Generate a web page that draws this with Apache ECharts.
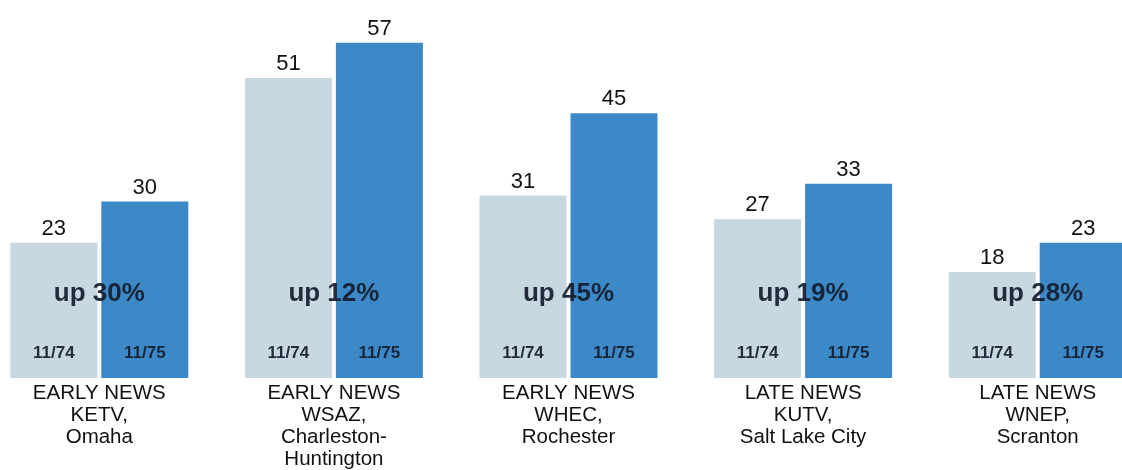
<!DOCTYPE html>
<html>
<head>
<meta charset="utf-8">
<title>Early and late news ratings, 11/74 vs 11/75</title>
<script src="https://cdn.jsdelivr.net/npm/echarts@6/dist/echarts.min.js"></script>
<style>
  html, body { margin: 0; padding: 0; background: #ffffff; overflow: hidden; width: 1122px; height: 470px; position: relative; }
  /* plot canvas runs slightly past both page edges so the last pair is cropped at the right */
  #chart { position: absolute; left: -18px; top: 0; width: 1173px; height: 470px; }
</style>
</head>
<body>
<div id="chart"></div>
<script>
// Newscasts and their markets
const categories = [
  'EARLY NEWS\nKETV,\nOmaha',
  'EARLY NEWS\nWSAZ,\nCharleston-\nHuntington',
  'EARLY NEWS\nWHEC,\nRochester',
  'LATE NEWS\nKUTV,\nSalt Lake City',
  'LATE NEWS\nWNEP,\nScranton'
];
// Rating book periods
const periodLabels = ['11/74', '11/75'];
// Ratings in each period
const ratings1974 = [23, 51, 31, 27, 18];
const ratings1975 = [30, 57, 45, 33, 23];
// Stated gain, percent
const gainPercent = [30, 12, 45, 19, 28];

const BAR_W = 87;
const BAR_GAP = 4;
const FONT = '"Liberation Sans", Arial, Helvetica, sans-serif';
const INK = 'rgba(18, 28, 44, 0.92)';

const chart = echarts.init(document.getElementById('chart'), null, { renderer: 'canvas' });

const valueLabel = {
  show: true,
  position: 'top',
  distance: 3,
  fontFamily: FONT,
  fontSize: 22,
  color: '#111111'
};

chart.setOption({
  animation: false,
  backgroundColor: '#ffffff',
  grid: { left: 0, right: 0, top: 25, bottom: 91, containLabel: false },
  xAxis: {
    type: 'category',
    data: categories,
    axisLine: { show: false },
    axisTick: { show: false },
    axisLabel: {
      margin: 4,
      fontFamily: FONT,
      fontSize: 20.5,
      lineHeight: 22,
      color: '#111111',
      interval: 0
    }
  },
  yAxis: {
    type: 'value',
    min: 0,
    max: 60,
    show: false,
    splitLine: { show: false }
  },
  series: [
    {
      name: periodLabels[0],
      type: 'bar',
      data: ratings1974,
      barWidth: BAR_W,
      barGap: (BAR_GAP / BAR_W * 100).toFixed(2) + '%',
      itemStyle: { color: '#c8d8e1' },
      label: valueLabel
    },
    {
      name: periodLabels[1],
      type: 'bar',
      data: ratings1975,
      barWidth: BAR_W,
      itemStyle: { color: '#3d89c7' },
      label: valueLabel
    },
    {
      // "up N%" across each pair, and the period tag at the foot of each bar
      type: 'custom',
      data: gainPercent.map((v, i) => [i, v]),
      encode: { x: 0, y: 1 },
      z: 10,
      silent: true,
      renderItem: function (params, api) {
        const base = api.coord([api.value(0), 0]);
        const x = base[0];
        const y0 = base[1];
        const off = (BAR_W + BAR_GAP) / 2;
        const tag = (text, dx) => ({
          type: 'text',
          style: {
            text: text,
            x: x + dx,
            y: y0 - 25,
            align: 'center',
            verticalAlign: 'middle',
            font: 'bold 17px ' + FONT,
            fill: INK
          }
        });
        return {
          type: 'group',
          children: [
            {
              type: 'text',
              style: {
                text: 'up ' + api.value(1) + '%',
                x: x,
                y: y0 - 84,
                align: 'center',
                verticalAlign: 'middle',
                font: 'bold 26px ' + FONT,
                fill: INK
              }
            },
            tag(periodLabels[0], -off),
            tag(periodLabels[1], off)
          ]
        };
      }
    }
  ]
});
</script>
</body>
</html>
